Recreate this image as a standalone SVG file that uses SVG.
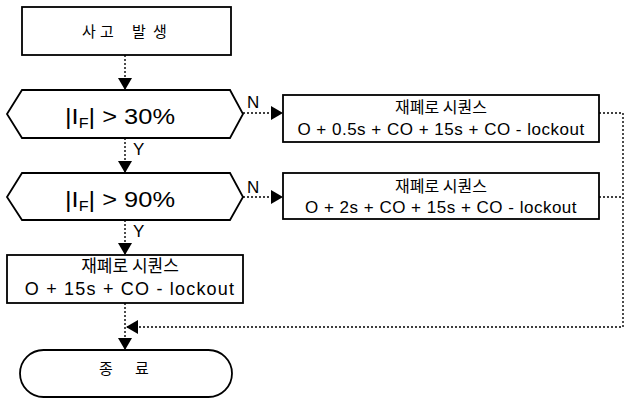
<svg xmlns="http://www.w3.org/2000/svg" width="625" height="399" viewBox="0 0 625 399">
  <defs>
    <marker id="arrow" viewBox="0 0 12 14" refX="12" refY="7" markerWidth="12" markerHeight="14" markerUnits="userSpaceOnUse" orient="auto">
      <path d="M0,0 L12,7 L0,14 Z" fill="#000"/>
    </marker>
    <style>
      .shape { fill: #fff; stroke: #000; stroke-width: 1.8; }
      .link { fill: none; stroke: #000; stroke-width: 1.4; stroke-dasharray: 2 2; }
      .ko { font-family: "Noto Sans CJK KR", "Liberation Sans", sans-serif; fill: #000; }
      .lat { font-family: "Liberation Sans", Arial, sans-serif; fill: #000; }
      .lbl { font-family: "Liberation Sans", Arial, sans-serif; font-size: 17px; fill: #000; }
    </style>
  </defs>
  <rect width="625" height="399" fill="#fff"/>

  <!-- connectors -->
  <g id="connectors">
    <path class="link" d="M125,55 V90" marker-end="url(#arrow)"/>
    <path class="link" d="M125,138 V173" marker-end="url(#arrow)"/>
    <path class="link" d="M125,220 V255" marker-end="url(#arrow)"/>
    <path class="link" d="M125,303 V350" marker-end="url(#arrow)"/>
    <path class="link" d="M243,113 H283" marker-end="url(#arrow)"/>
    <path class="link" d="M243,197 H283" marker-end="url(#arrow)"/>
    <path class="link" d="M599,197 H623"/>
    <path class="link" d="M599,113 H623 V327 H126" marker-end="url(#arrow)"/>
    <text class="lbl" x="133" y="155">Y</text>
    <text class="lbl" x="133" y="237">Y</text>
    <text class="lbl" x="247" y="108">N</text>
    <text class="lbl" x="247" y="193">N</text>
  </g>

  <!-- start -->
  <g id="start">
    <rect class="shape" x="22" y="7" width="209" height="48"/>
    <text class="ko" font-size="15" y="37" text-anchor="middle"><tspan x="89">사</tspan><tspan x="107">고</tspan><tspan x="139">발</tspan><tspan x="160">생</tspan></text>
  </g>

  <!-- decision: 30% -->
  <g id="check30">
    <polygon class="shape" points="7,114 22,90 230,90 243,114 230,138 22,138"/>
    <text class="lat" font-size="22" x="65" y="124" textLength="110" lengthAdjust="spacingAndGlyphs">|I<tspan font-size="14" dy="4">F</tspan><tspan dy="-4">| &gt; 30%</tspan></text>
  </g>

  <!-- decision: 90% -->
  <g id="check90">
    <polygon class="shape" points="7,197 22,173 230,173 243,197 230,220 22,220"/>
    <text class="lat" font-size="22" x="65" y="207" textLength="110" lengthAdjust="spacingAndGlyphs">|I<tspan font-size="14" dy="4">F</tspan><tspan dy="-4">| &gt; 90%</tspan></text>
  </g>

  <!-- reclose sequence, fast -->
  <g id="seq1">
    <rect class="shape" x="283" y="95" width="316" height="47"/>
    <text class="ko" font-size="16" x="441" y="113" text-anchor="middle">재폐로 시퀀스</text>
    <text class="lat" font-size="17" x="441" y="135" text-anchor="middle" letter-spacing="0.5">O + 0.5s + CO + 15s + CO - lockout</text>
  </g>

  <!-- reclose sequence, medium -->
  <g id="seq2">
    <rect class="shape" x="283" y="173" width="316" height="46"/>
    <text class="ko" font-size="16" x="441" y="192" text-anchor="middle">재폐로 시퀀스</text>
    <text class="lat" font-size="17" x="441" y="213" text-anchor="middle" letter-spacing="0.5">O + 2s + CO + 15s + CO - lockout</text>
  </g>

  <!-- reclose sequence, single shot -->
  <g id="seq3">
    <rect class="shape" x="7" y="255" width="236" height="48"/>
    <text class="ko" font-size="17" x="130" y="272" text-anchor="middle">재폐로 시퀀스</text>
    <text class="lat" font-size="18" x="130" y="295" text-anchor="middle" letter-spacing="1.2">O + 15s + CO - lockout</text>
  </g>

  <!-- end -->
  <g id="end">
    <rect class="shape" x="20" y="350" width="212" height="47" rx="23.5" ry="23.5"/>
    <text class="ko" font-size="15" y="374" text-anchor="middle"><tspan x="106">종</tspan><tspan x="142">료</tspan></text>
  </g>
</svg>
